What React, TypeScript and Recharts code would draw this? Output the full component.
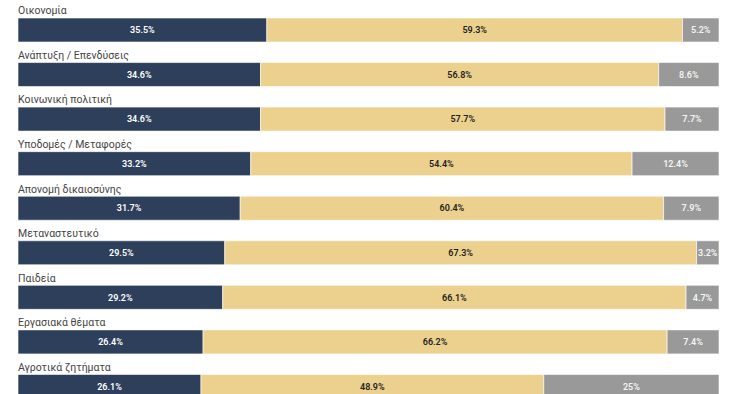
import { Bar, BarChart, LabelList, XAxis, YAxis } from "recharts";

const topics = [
  "Οικονομία",
  "Ανάπτυξη / Επενδύσεις",
  "Κοινωνική πολιτική",
  "Υποδομές / Μεταφορές",
  "Απονομή δικαιοσύνης",
  "Μεταναστευτικό",
  "Παιδεία",
  "Εργασιακά θέματα",
  "Αγροτικά ζητήματα",
];
const positive = [35.5, 34.6, 34.6, 33.2, 31.7, 29.5, 29.2, 26.4, 26.1];
const negative = [59.3, 56.8, 57.7, 54.4, 60.4, 67.3, 66.1, 66.2, 48.9];
const unknown = [5.2, 8.6, 7.7, 12.4, 7.9, 3.2, 4.7, 7.4, 25];

const data = topics.map((topic, i) => ({
  topic,
  positive: positive[i],
  negative: negative[i],
  unknown: unknown[i],
}));

const fmt = (v: unknown) => `${v}%`;

// topic name drawn as the y tick, sitting just above the left edge of each bar
function TopicTick(props: any) {
  const { y, payload } = props;
  return (
    <text x={18} y={y - 16} fill="#444" fontSize={10.5} fontFamily="Roboto, sans-serif" textAnchor="start">
      {payload.value}
    </text>
  );
}

const valueLabel = { fontSize: 9, fontWeight: 600, fontFamily: "Roboto, sans-serif" };

export default function App() {
  return (
    <div style={{ position: "absolute", top: 0, left: 0 }}>
      <BarChart
        width={734}
        height={409}
        data={data}
        layout="vertical"
        margin={{ top: 8, right: 15, bottom: 0, left: 17 }}
        barSize={24}
        style={{ overflow: "visible" }}
      >
        <XAxis type="number" domain={[0, 100]} hide />
        <YAxis
          type="category"
          dataKey="topic"
          width={1}
          axisLine={false}
          tickLine={false}
          interval={0}
          tick={<TopicTick />}
        />
        <Bar dataKey="positive" stackId="a" fill="#2e3f5b" stroke="#ffffff" strokeOpacity={0.6} isAnimationActive={false}>
          <LabelList dataKey="positive" position="center" formatter={fmt} fill="#ffffff" style={valueLabel} />
        </Bar>
        <Bar dataKey="negative" stackId="a" fill="#ecd18e" stroke="#ffffff" strokeOpacity={0.6} isAnimationActive={false}>
          <LabelList dataKey="negative" position="center" formatter={fmt} fill="#222222" style={valueLabel} />
        </Bar>
        <Bar dataKey="unknown" stackId="a" fill="#999999" stroke="#ffffff" strokeOpacity={0.6} isAnimationActive={false}>
          <LabelList dataKey="unknown" position="center" formatter={fmt} fill="#f4f4f4" style={valueLabel} />
        </Bar>
      </BarChart>
    </div>
  );
}
